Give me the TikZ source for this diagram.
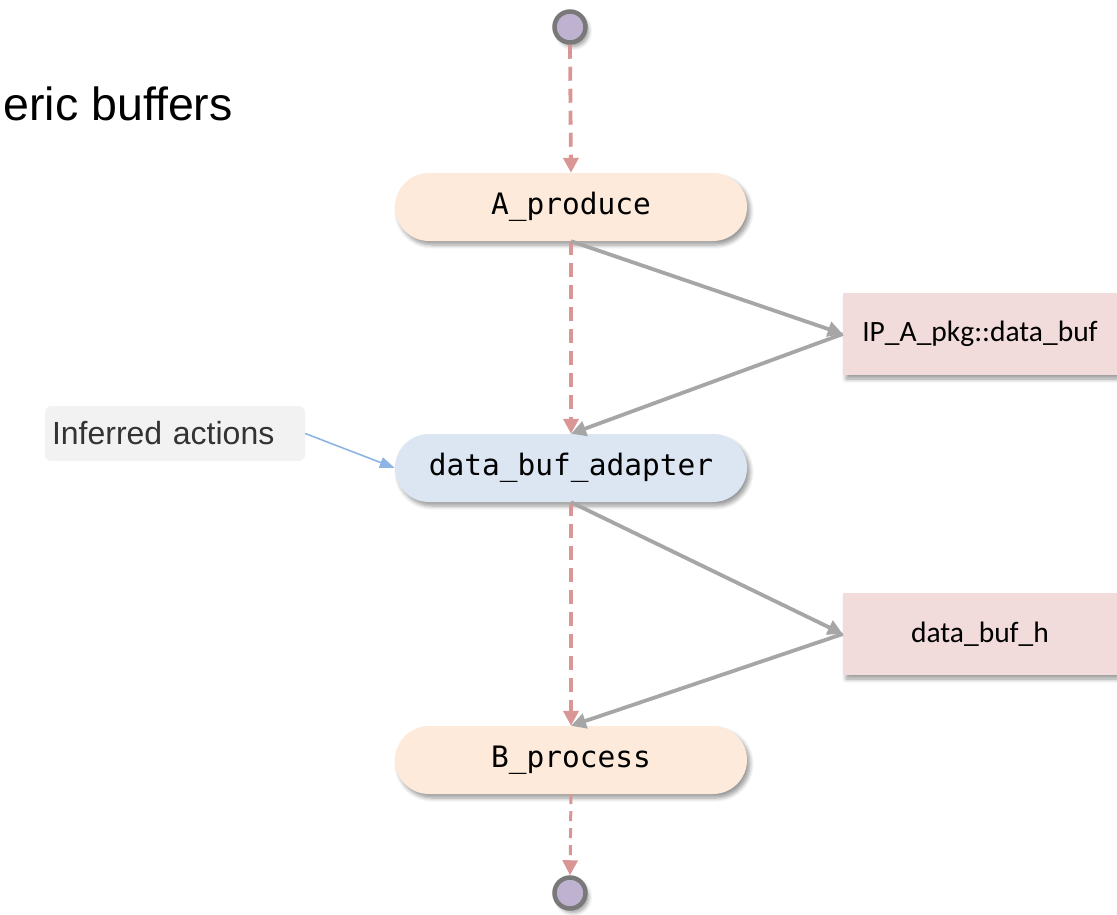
\documentclass[tikz,border=0pt]{standalone}
\usepackage{fontspec}
\setmainfont{Liberation Sans}
\newfontfamily\codefont{DejaVu Sans Mono}
\newfontfamily\boxfont{Carlito}
\usetikzlibrary{arrows.meta,shadows.blur}
\definecolor{flowred}{HTML}{D99694}
\definecolor{linkgray}{HTML}{A6A6A6}
\definecolor{notblue}{HTML}{8EB4E3}
\definecolor{actfill}{HTML}{FDEADA}
\definecolor{adaptfill}{HTML}{DCE6F2}
\definecolor{buffill}{HTML}{F2DCDB}
\definecolor{notefill}{HTML}{F2F2F2}
\definecolor{termfill}{HTML}{BFB1D0}
\tikzset{
  softshadow/.style={blur shadow={shadow xshift=3pt, shadow yshift=-4pt, shadow blur steps=6, shadow blur radius=4pt, shadow opacity=40}},
  action/.style={rounded corners=34pt, minimum width=352pt, minimum height=68pt, inner sep=0pt,
    font=\codefont\fontsize{29.5}{34}\selectfont, softshadow},
  bufbox/.style={fill=buffill, minimum width=274pt, minimum height=82pt, inner sep=0pt,
    font=\boxfont\fontsize{29.5}{34}\selectfont, softshadow},
  terminal/.style={circle, fill=termfill, draw=gray!95!black, line width=4.5pt, minimum size=31pt, inner sep=0pt, softshadow},
  flow/.style={draw=flowred, line width=3.8pt, dash pattern=on 14pt off 8pt, -{Triangle[length=15pt,width=15pt]}},
  link/.style={draw=linkgray, line width=3.8pt, -{Triangle[length=15pt,width=15pt]}},
}
\begin{document}
\begin{tikzpicture}[x=1pt,y=-1pt]
\useasboundingbox (0,0) rectangle (1117,915);

\node[anchor=base west, font=\fontsize{46.5}{52}\selectfont] (title) at (0,121) {eric buffers};

\node[terminal] (start) at (570,27) {};
\node[action, fill=actfill] (aprod) at (571,207) {A\_produce};
\node[action, fill=adaptfill] (adapt) at (571,468) {data\_buf\_adapter};
\node[action, fill=actfill] (bproc) at (571,760) {B\_process};
\node[terminal] (stop) at (570,893) {};

\node[bufbox] (ipbuf) at (980,334) {IP\_A\_pkg::data\_buf};
\node[bufbox] (hbuf) at (980,634) {data\_buf\_h};

\node[fill=notefill, rounded corners=6pt, minimum height=55pt, inner xsep=7pt, inner ysep=0pt,
  text width=246pt, align=left, text=black!80, font=\fontsize{32}{36}\selectfont] (note) at (175,433.5) {Inferred actions};

% control flow
\draw[flow] (start.south) -- (aprod.north);
\draw[flow] (aprod.south) -- (adapt.north);
\draw[flow] (adapt.south) -- (bproc.north);
\draw[flow, line width=3pt, dash pattern=on 10pt off 7pt] (bproc.south) -- (stop.north);

% buffer links
\draw[link] (aprod.south) -- (ipbuf.west);
\draw[link] (ipbuf.west) -- (adapt.north);
\draw[link] (adapt.south) -- (hbuf.west);
\draw[link] (hbuf.west) -- (bproc.north);

% annotation
\draw[draw=notblue, line width=1.6pt, -{Triangle[length=15pt,width=11pt]}] (note.east) -- (adapt.west);
\end{tikzpicture}
\end{document}
